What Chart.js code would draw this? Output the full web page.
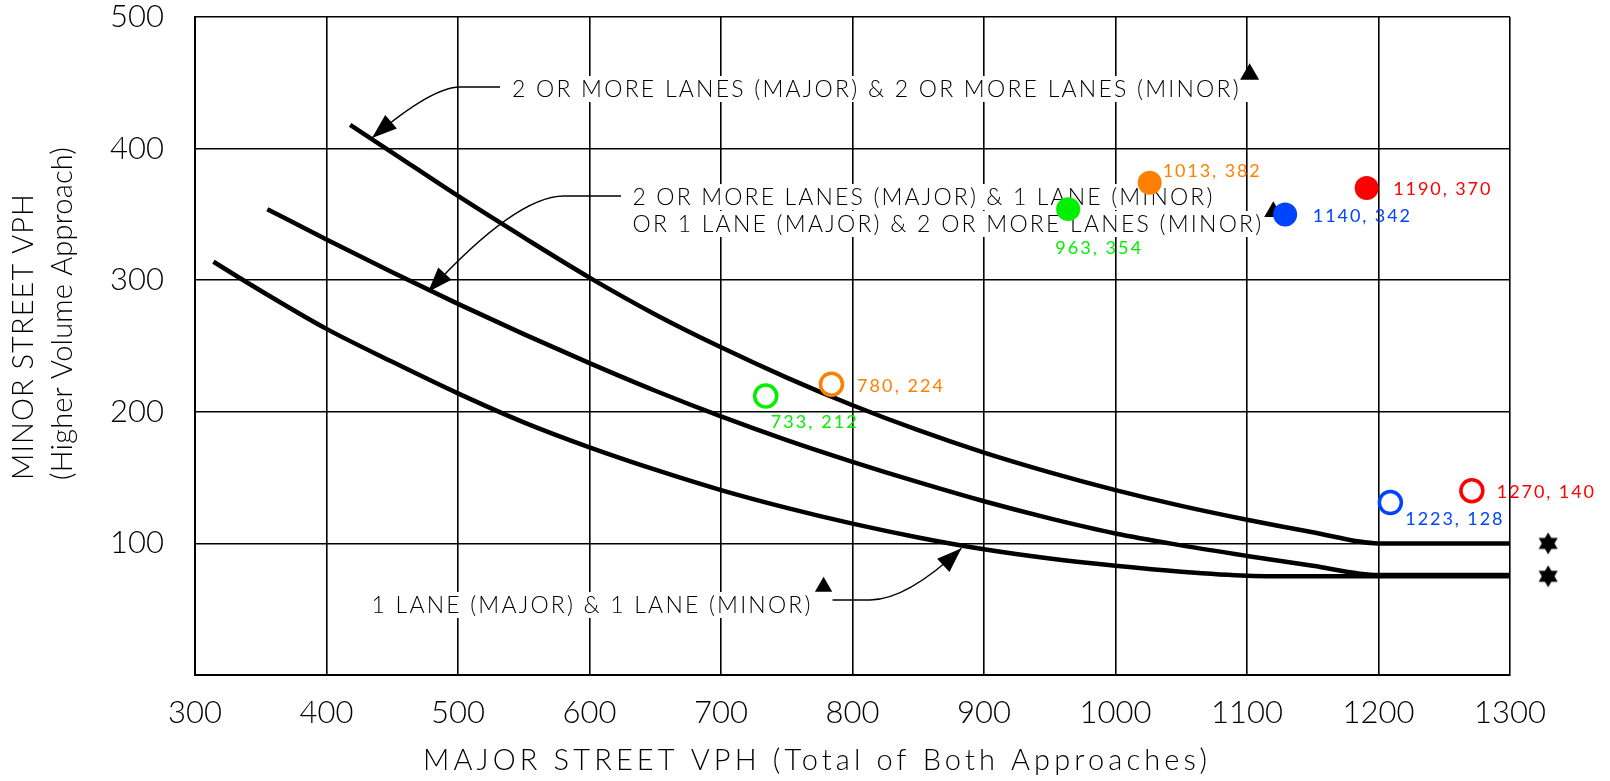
<!DOCTYPE html>
<html>
<head>
<meta charset="utf-8">
<script src="https://cdn.jsdelivr.net/npm/chart.js@4.4.1/dist/chart.umd.min.js"></script>
<style>
  html, body { margin: 0; padding: 0; background: #fff; }
</style>
</head>
<body>
<canvas id="warrantChart" width="1610" height="781"></canvas>
<script>
// axis ticks
const xTickValues = [300, 400, 500, 600, 700, 800, 900, 1000, 1100, 1200, 1300];
const yTickValues = [0, 100, 200, 300, 400, 500];

// warrant curves, [major street vph, minor street vph]
const curveTwoTwo = [
    [418, 418], [450, 397], [500, 364], [550, 332.5], [600, 302], [650, 274],
    [700, 249], [750, 226], [800, 205], [850, 186], [900, 169], [950, 154],
    [1000, 140.5], [1050, 128.5], [1100, 118], [1150, 108.5], [1200, 100], [1300, 100]
];
const curveTwoOne = [
    [355, 354], [400, 331], [450, 306], [500, 282], [550, 259], [600, 237],
    [650, 216], [700, 196.5], [750, 178.5], [800, 162], [850, 146.5], [900, 132],
    [950, 119], [1000, 107.5], [1050, 98.5], [1100, 90.5], [1150, 83], [1200, 76], [1300, 76]
];
const curveOneOne = [
    [314, 314], [350, 292], [400, 263], [450, 238], [500, 214], [550, 192],
    [600, 173], [650, 156], [700, 140.5], [750, 127], [800, 115], [850, 104.5],
    [900, 95.5], [950, 88.5], [1000, 83], [1050, 78.5], [1100, 75.5], [1150, 75],
    [1200, 75], [1300, 75]
];

// counted volumes
const filledX = [964, 1026, 1129, 1191];
const filledY = [354, 374, 350, 370];
const filledLabels = ['963, 354', '1013, 382', '1140, 342', '1190, 370'];
const openX = [734, 784, 1209, 1271];
const openY = [212, 221, 131, 140];
const openLabels = ['733, 212', '780, 224', '1223, 128', '1270, 140'];

// drawing symbols
const triX = [1102, 1120, 778];
const triY = [456.5, 352, 67];
const starX = [1329, 1329];
const starY = [100, 75];

const curveLabels = [
    '2 OR MORE LANES (MAJOR) & 2 OR MORE LANES (MINOR)',
    '2 OR MORE LANES (MAJOR) & 1 LANE (MINOR)',
    'OR 1 LANE (MAJOR) & 2 OR MORE LANES (MINOR)',
    '1 LANE (MAJOR) & 1 LANE (MINOR)'
];

const filledColors = ['#00f000', '#ff8000', '#0044ff', '#ff0000'];
const openColors = ['#00f000', '#ff8000', '#0044ff', '#ff0000'];

const toXY = (xs, ys) => xs.map((v, i) => ({x: v, y: ys[i]}));
const pairs = arr => arr.map(p => ({x: p[0], y: p[1]}));

// six pointed star
const star = document.createElement('canvas');
star.width = 24; star.height = 24;
(function () {
    const c = star.getContext('2d');
    c.fillStyle = '#000';
    [-90, 90].forEach(a0 => {
        c.beginPath();
        for (let k = 0; k < 3; k++) {
            const a = (a0 + k * 120) * Math.PI / 180;
            const px = 12 + 11 * Math.cos(a), py = 12 + 11 * Math.sin(a);
            if (k == 0) c.moveTo(px, py); else c.lineTo(px, py);
        }
        c.closePath();
        c.fill();
    });
})();

const FONT = 'Lato, "DejaVu Sans", sans-serif';

// draw text stretched to a given width, y is the middle of the capitals
function fitText(ctx, text, x, yMid, width, size) {
    ctx.letterSpacing = '0px';
    const w0 = ctx.measureText(text).width;
    ctx.letterSpacing = ((width - w0) / text.length) + 'px';
    ctx.fillText(text, x, yMid + size * 0.36);
}

// text boxes: [label index, left x, mid y (data), width px]
const noteBoxes = [
    [0, 541, 445.3, 729],
    [1, 632.7, 363.2, 582],
    [2, 632.7, 342.7, 631],
    [3, 434.3, 53.2, 441]
];
// leaders: start, corner, control, tip (data)
const leaders = [
    [[532, 446.8], [501.5, 446.8], [480.2, 446.8], [434.6, 408.1]],
    [[624, 364], [580.6, 364], [544.1, 364], [477.2, 291]],
    [[784.8, 57], [813.3, 57], [841.1, 57], [882.9, 96.3]]
];
// point label offsets in px
const filledOffsets = [[-13, 38.5], [13, -12], [27.7, 0.7], [26.6, 0.7]];
const openOffsets = [[5, 25.7], [25.6, 1], [15, 15.6], [25, 1]];

const notesPlugin = {
    id: 'notes',
    beforeDatasetsDraw(chart) {
        const ctx = chart.ctx;
        const xs = chart.scales.x, ys = chart.scales.y;
        ctx.save();
        ctx.font = '300 23px ' + FONT;
        ctx.textAlign = 'left';
        noteBoxes.forEach(b => {
            const px = xs.getPixelForValue(b[1]);
            const py = ys.getPixelForValue(b[2]);
            ctx.fillStyle = '#fff';
            ctx.fillRect(px - 6, py - 13, b[3] + 14, 26);
        });
        ctx.fillStyle = '#000';
        noteBoxes.forEach(b => {
            fitText(ctx, curveLabels[b[0]], xs.getPixelForValue(b[1]), ys.getPixelForValue(b[2]), b[3], 23);
        });
        ctx.letterSpacing = '0px';

        ctx.strokeStyle = '#000';
        ctx.lineWidth = 1.3;
        leaders.forEach(l => {
            const p = l.map(q => [xs.getPixelForValue(q[0]), ys.getPixelForValue(q[1])]);
            ctx.beginPath();
            ctx.moveTo(p[0][0], p[0][1]);
            ctx.lineTo(p[1][0], p[1][1]);
            ctx.quadraticCurveTo(p[2][0], p[2][1], p[3][0], p[3][1]);
            ctx.stroke();
            let dx = p[3][0] - p[2][0], dy = p[3][1] - p[2][1];
            const d = Math.hypot(dx, dy);
            dx /= d; dy /= d;
            const L = 25, hw = 9;
            ctx.beginPath();
            ctx.moveTo(p[3][0], p[3][1]);
            ctx.lineTo(p[3][0] - dx * L - dy * hw, p[3][1] - dy * L + dx * hw);
            ctx.lineTo(p[3][0] - dx * L + dy * hw, p[3][1] - dy * L - dx * hw);
            ctx.closePath();
            ctx.fillStyle = '#000';
            ctx.fill();
        });

        // axis titles
        ctx.font = '300 29px ' + FONT;
        ctx.fillStyle = '#000';
        ctx.textAlign = 'left';
        fitText(ctx, 'MAJOR STREET VPH (Total of Both Approaches)', 423, 760, 788, 29);
        ctx.translate(0, 480);
        ctx.rotate(-Math.PI / 2);
        fitText(ctx, 'MINOR STREET VPH', 0, 23, 287, 29);
        fitText(ctx, '(Higher Volume Approach)', 0, 62, 333, 29);
        ctx.restore();
    },
    afterDatasetsDraw(chart) {
        const ctx = chart.ctx;
        const xs = chart.scales.x, ys = chart.scales.y;
        ctx.save();
        // stars sit right of the plot, outside the chart area
        starX.forEach((v, i) => {
            Chart.helpers.drawPoint(ctx, {pointStyle: star, radius: 12, rotation: 0, borderWidth: 0},
                xs.getPixelForValue(v), ys.getPixelForValue(starY[i]));
        });
        ctx.font = '18px ' + FONT;
        ctx.textAlign = 'left';
        const put = (X, Y, labels, offs, cols) => {
            X.forEach((v, i) => {
                const px = xs.getPixelForValue(v) + offs[i][0];
                const py = ys.getPixelForValue(Y[i]) + offs[i][1];
                ctx.fillStyle = cols[i];
                fitText(ctx, labels[i], px, py, labels[i].length * 11, 18);
            });
        };
        put(filledX, filledY, filledLabels, filledOffsets, filledColors);
        put(openX, openY, openLabels, openOffsets, openColors);
        ctx.restore();
    }
};

const curveStyle = {
    showLine: true,
    borderColor: '#000',
    borderWidth: 4.5,
    pointRadius: 0,
    fill: false,
    cubicInterpolationMode: 'monotone',
    order: 3
};

const noPad = s => { s.paddingTop = 0; s.paddingBottom = 0; s.paddingLeft = 0; s.paddingRight = 0; };

const ctx1 = document.getElementById('warrantChart').getContext('2d');
const warrantChart = new Chart(ctx1, {
    type: 'scatter',
    data: {
        datasets: [
            Object.assign({label: '2+ & 2+', data: pairs(curveTwoTwo)}, curveStyle),
            Object.assign({label: '2+ & 1', data: pairs(curveTwoOne)}, curveStyle),
            Object.assign({label: '1 & 1', data: pairs(curveOneOne)}, curveStyle),
            {
                label: 'marks',
                data: toXY(triX, triY),
                pointStyle: 'triangle',
                pointRadius: [11, 10.5, 10],
                backgroundColor: '#000',
                borderWidth: 0,
                order: 2
            },
            {
                label: 'counts',
                data: toXY(filledX, filledY),
                pointRadius: 12,
                backgroundColor: filledColors,
                borderWidth: 0,
                order: 1
            },
            {
                label: 'counts2',
                data: toXY(openX, openY),
                pointRadius: 11,
                backgroundColor: 'rgba(0,0,0,0)',
                borderColor: openColors,
                borderWidth: 3.5,
                order: 0
            }
        ]
    },
    options: {
        responsive: false,
        animation: false,
        devicePixelRatio: 1,
        layout: {padding: {top: 17, right: 100, left: 0, bottom: 0}},
        plugins: {legend: {display: false}, tooltip: {enabled: false}},
        scales: {
            x: {
                type: 'linear',
                min: 300,
                max: 1300,
                afterBuildTicks: s => { s.ticks = xTickValues.map(v => ({value: v})); },
                afterFit: s => { s.height = 106; noPad(s); },
                ticks: {
                    color: '#000',
                    padding: 19,
                    font: {family: FONT, size: 31, weight: 300},
                    callback: v => String(v)
                },
                grid: {color: '#000', lineWidth: 1.6, drawTicks: false},
                border: {color: '#000', width: 2}
            },
            y: {
                min: 0,
                max: 500,
                afterBuildTicks: s => { s.ticks = yTickValues.map(v => ({value: v})); },
                afterFit: s => { s.width = 195; noPad(s); },
                ticks: {
                    color: '#000',
                    padding: 31,
                    font: {family: FONT, size: 31, weight: 300},
                    callback: v => v === 0 ? '' : String(v)
                },
                grid: {color: '#000', lineWidth: 1.6, drawTicks: false},
                border: {color: '#000', width: 2}
            }
        }
    },
    plugins: [notesPlugin]
});
</script>
</body>
</html>
